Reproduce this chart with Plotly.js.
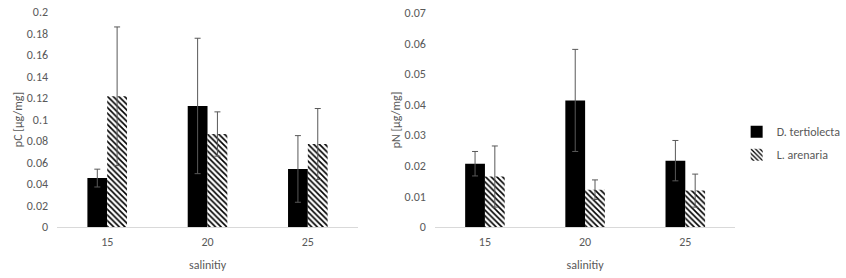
<!DOCTYPE html>
<html>
<head>
<meta charset="utf-8">
<script src="https://cdn.plot.ly/plotly-3.0.1.min.js"></script>
<style>html,body{margin:0;padding:0;background:#fff;}#chart{width:846px;height:278px;}</style>
</head>
<body>
<div id="chart"></div>
<script>
var categories = ["15", "20", "25"];
var seriesNames = ["D. tertiolecta", "L. arenaria"];

var pC_D = [0.0455, 0.1126, 0.054];
var pC_D_err = [0.0083, 0.063, 0.031];
var pC_L = [0.1216, 0.0865, 0.0772];
var pC_L_err = [0.0645, 0.0206, 0.033];

var pN_D = [0.0207, 0.0414, 0.0217];
var pN_D_err = [0.0040, 0.0167, 0.0066];
var pN_L = [0.0165, 0.0122, 0.0119];
var pN_L_err = [0.0100, 0.0032, 0.0054];

var pC_ticks = [0, 0.02, 0.04, 0.06, 0.08, 0.1, 0.12, 0.14, 0.16, 0.18, 0.2];
var pC_tickText = ["0", "0.02", "0.04", "0.06", "0.08", "0.1", "0.12", "0.14", "0.16", "0.18", "0.2"];
var pN_ticks = [0, 0.01, 0.02, 0.03, 0.04, 0.05, 0.06, 0.07];
var pN_tickText = ["0", "0.01", "0.02", "0.03", "0.04", "0.05", "0.06", "0.07"];

var xTitle = "salinitiy";
var pC_title = "pC [µg/mg]";
var pN_title = "pN [µg/mg]";

var FONT = "Calibri, Carlito, Lato, 'Open Sans', sans-serif";
var GREY = "#595959";

function err(arr) {
  return {type: "data", array: arr, visible: true, color: "#595959", thickness: 1, width: 3};
}
var solid = {color: "#000000", line: {width: 0}};
var hatch = {color: "#ffffff", line: {width: 0},
  pattern: {shape: "\\", fgcolor: "#000000", bgcolor: "#ffffff", size: 4, solidity: 0.4}};

var data = [
  {type: "bar", x: categories, y: pC_D, error_y: err(pC_D_err), name: seriesNames[0], marker: solid, xaxis: "x", yaxis: "y", showlegend: false, legendgroup: "a"},
  {type: "bar", x: categories, y: pC_L, error_y: err(pC_L_err), name: seriesNames[1], marker: hatch, xaxis: "x", yaxis: "y", showlegend: false, legendgroup: "b"},
  {type: "bar", x: categories, y: pN_D, error_y: err(pN_D_err), name: seriesNames[0], marker: solid, xaxis: "x2", yaxis: "y2", legendgroup: "a"},
  {type: "bar", x: categories, y: pN_L, error_y: err(pN_L_err), name: seriesNames[1], marker: hatch, xaxis: "x2", yaxis: "y2", legendgroup: "b"}
];

function xax(domain, anchor) {
  return {domain: domain, anchor: anchor, type: "category", showline: true, linecolor: "#d9d9d9", linewidth: 1,
    ticks: "", showgrid: false, zeroline: false, fixedrange: true, ticklabelstandoff: 4,
    tickfont: {family: FONT, size: 12, color: GREY},
    title: {text: xTitle, font: {family: FONT, size: 12, color: GREY}, standoff: 12}};
}
function yax(domain, anchor, range, tv, tt, title) {
  return {domain: domain, anchor: anchor, range: range, tickmode: "array", tickvals: tv, ticktext: tt,
    showline: false, showgrid: false, zeroline: false, ticks: "", fixedrange: true,
    tickfont: {family: FONT, size: 12, color: GREY}, ticklabelstandoff: 8,
    title: {text: title, font: {family: FONT, size: 12, color: GREY}}};
}

var layout = {
  width: 846, height: 278,
  margin: {l: 0, r: 0, t: 0, b: 0},
  paper_bgcolor: "#ffffff", plot_bgcolor: "#ffffff",
  barmode: "group", bargap: 0.605, bargroupgap: 0,
  font: {family: FONT, size: 12, color: GREY},
  xaxis: xax([0.068, 0.4267], "y"),
  yaxis: yax([0.1835, 0.9568], "x", [0, 0.2], pC_ticks, pC_tickText, pC_title),
  xaxis2: xax([0.5183, 0.8765], "y2"),
  yaxis2: yax([0.1835, 0.9532], "x2", [0, 0.07], pN_ticks, pN_tickText, pN_title),
  legend: {x: 0.878, y: 0.485, xanchor: "left", yanchor: "middle", bgcolor: "rgba(0,0,0,0)",
    font: {family: FONT, size: 12, color: GREY}, itemwidth: 30, tracegroupgap: 4},
  showlegend: true
};

Plotly.newPlot("chart", data, layout, {staticPlot: true, displayModeBar: false});
</script>
</body>
</html>
